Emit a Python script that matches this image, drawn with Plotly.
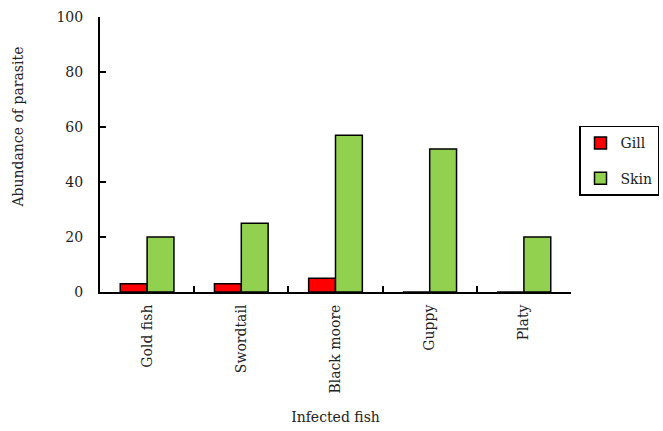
import plotly.graph_objects as go

# Parasite abundance per infected fish species
fish = ["Gold fish", "Swordtail", "Black moore", "Guppy", "Platy"]
gill = [3, 3, 5, 0, 0]
skin = [20, 25, 57, 52, 20]

serif = "DejaVu Serif, Liberation Serif, serif"

fig = go.Figure()
fig.add_trace(go.Bar(
    x=fish, y=gill, name="Gill", legendgroup="gill",
    marker=dict(color="#FF0000", line=dict(color="black", width=1.5)),
))
fig.add_trace(go.Bar(
    x=fish, y=skin, name="Skin", legendgroup="skin",
    marker=dict(color="#92D050", line=dict(color="black", width=1.5)),
))

fig.update_layout(
    width=663, height=431,
    margin=dict(l=100, r=92, t=17, b=139, autoexpand=False),
    paper_bgcolor="white", plot_bgcolor="white",
    barmode="group", bargap=0.43, bargroupgap=0,
    font=dict(family=serif, size=14, color="#222"),
    legend=dict(
        x=1.017, y=0.604, xanchor="left", yanchor="top",
        bordercolor="black", borderwidth=1.5,
        font=dict(family=serif, size=14),
        traceorder="grouped", tracegroupgap=14, itemwidth=30,
    ),
    showlegend=True,
)

fig.update_xaxes(
    showline=True, linecolor="black", linewidth=2,
    tickson="boundaries", ticks="inside", ticklen=6, tickcolor="black", tickwidth=1.5,
    tickangle=-90, tickfont=dict(family=serif, size=14),
    ticklabelstandoff=5,
    title=dict(text="Infected fish", font=dict(family=serif, size=14), standoff=20),
    showgrid=False, zeroline=False,
)
fig.update_yaxes(
    range=[0, 100], tickvals=[0, 20, 40, 60, 80, 100],
    showline=True, linecolor="black", linewidth=2,
    ticks="inside", ticklen=6, tickcolor="black", tickwidth=1.5,
    ticklabelstandoff=12, tickfont=dict(family=serif, size=14),
    showgrid=False, zeroline=False,
)

# Y-axis label placed as a rotated annotation
fig.add_annotation(
    text="Abundance of parasite", textangle=-90,
    xref="paper", yref="paper", x=-0.175, y=0.6,
    xanchor="center", yanchor="middle", showarrow=False,
    font=dict(family=serif, size=14),
)

fig.write_html("out.html")
